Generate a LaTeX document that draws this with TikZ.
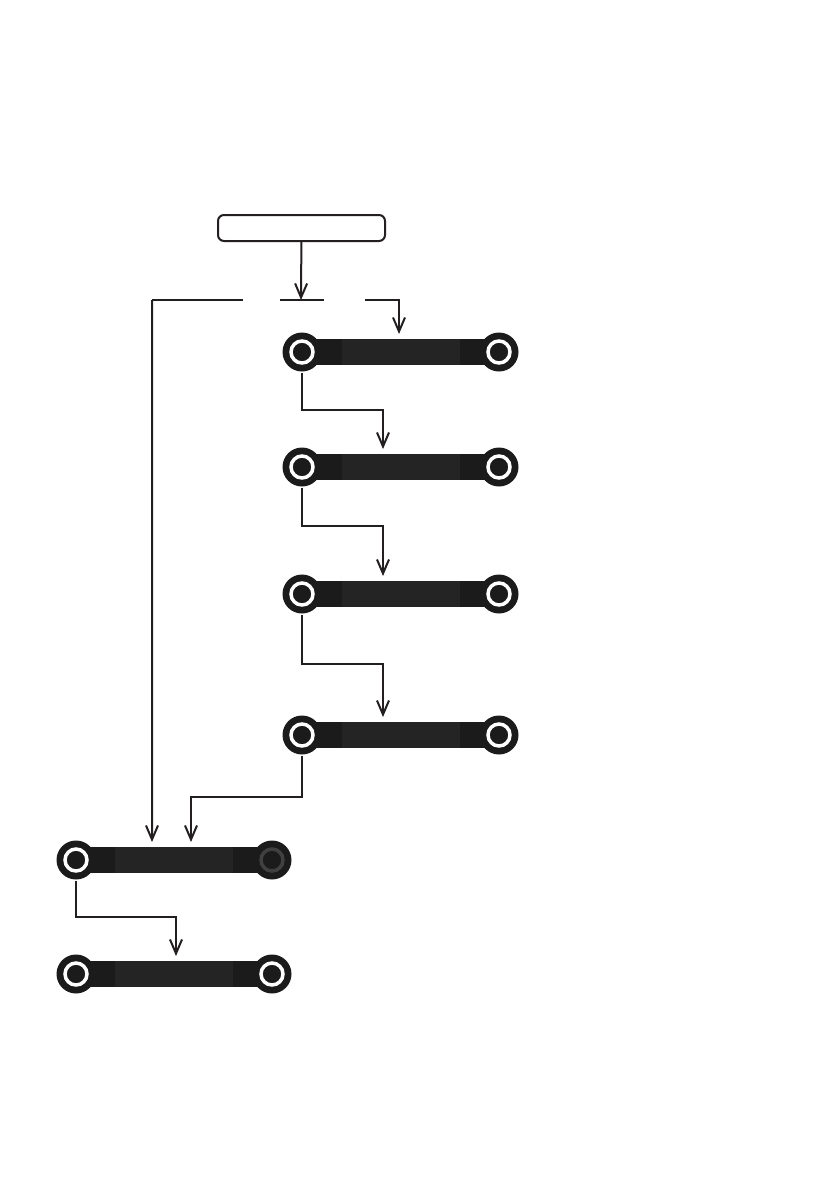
\documentclass[tikz,border=0pt]{standalone}
\usetikzlibrary{arrows.meta}
\definecolor{ink}{HTML}{231F20}
\definecolor{barend}{HTML}{1B1B1B}
\definecolor{barmid}{HTML}{242424}
\definecolor{deadring}{HTML}{404040}
\begin{document}
\begin{tikzpicture}
  [x=1bp, y=-1bp, line width=2bp,
   link/.style={draw=ink, -{Straight Barb[length=14bp,width=12bp]}, shorten >=4bp},
   start node/.style={draw=ink, rounded corners=6bp, minimum width=167bp, minimum height=26bp, inner sep=0pt},
   bar node/.style={fill=barend, minimum width=197bp, minimum height=26bp, inner sep=0pt},
   mid node/.style={fill=barmid, minimum width=118bp, minimum height=26bp, inner sep=0pt},
   joint/.style={circle, fill=barend, minimum size=39bp, inner sep=0pt,
     path picture={\draw[#1, line width=3.5bp, fill=barend] (path picture bounding box.center) circle (11bp);}},
   joint/.default=white]
  \fill[white] (0,0) rectangle (840,1192);
  \useasboundingbox (0,0) rectangle (840,1192);

  \node[start node] (start) at (301.5,228) {};
  \coordinate (fork) at (301,300);
  \coordinate (l) at (152,300);
  \coordinate (la) at (243,300);
  \coordinate (ma) at (280,300);
  \coordinate (mb) at (324,300);
  \coordinate (r) at (365,300);

  % column of bars
  \node[bar node] (b1) at (400.5,352) {};
  \node[mid node] (b1m) at (b1) {};
  \node[joint] (b1l) at (302,352) {};
  \node[joint] (b1r) at (499,352) {};

  \node[bar node] (b2) at (400.5,467) {};
  \node[mid node] (b2m) at (b2) {};
  \node[joint] (b2l) at (302,467) {};
  \node[joint] (b2r) at (499,467) {};

  \node[bar node] (b3) at (400.5,594) {};
  \node[mid node] (b3m) at (b3) {};
  \node[joint] (b3l) at (302,594) {};
  \node[joint] (b3r) at (499,594) {};

  \node[bar node] (b4) at (400.5,735) {};
  \node[mid node] (b4m) at (b4) {};
  \node[joint] (b4l) at (302,735) {};
  \node[joint] (b4r) at (499,735) {};

  % lower bars
  \node[bar node] (b5) at (174,860) {};
  \node[mid node] (b5m) at (b5) {};
  \node[joint] (b5l) at (76,860) {};
  \node[joint=deadring] (b5r) at (272,860) {};

  \node[bar node] (b6) at (174,974) {};
  \node[mid node] (b6m) at (b6) {};
  \node[joint] (b6l) at (76,974) {};
  \node[joint] (b6r) at (272,974) {};

  \draw[link, shorten >=0pt] (start) -- (fork);
  \draw[draw=ink] (la) -- (l);
  \draw[draw=ink] (ma) -- (mb);
  \draw[link] (l) -- ([xshift=-22bp]b5.north);
  \draw[link] (r) -| ([xshift=-1.5bp]b1.north);

  \draw[link] (b1l.south) -- ++(0,37) -| ([xshift=-17.5bp]b2.north);
  \draw[link] (b2l.south) -- ++(0,38) -| ([xshift=-17.5bp]b3.north);
  \draw[link] (b3l.south) -- ++(0,49) -| ([xshift=-17.5bp]b4.north);
  \draw[link] (b4l.south) -- ++(0,41) -| ([xshift=17bp]b5.north);
  \draw[link] (b5l.south) -- ++(0,36) -| ([xshift=2bp]b6.north);
\end{tikzpicture}
\end{document}
